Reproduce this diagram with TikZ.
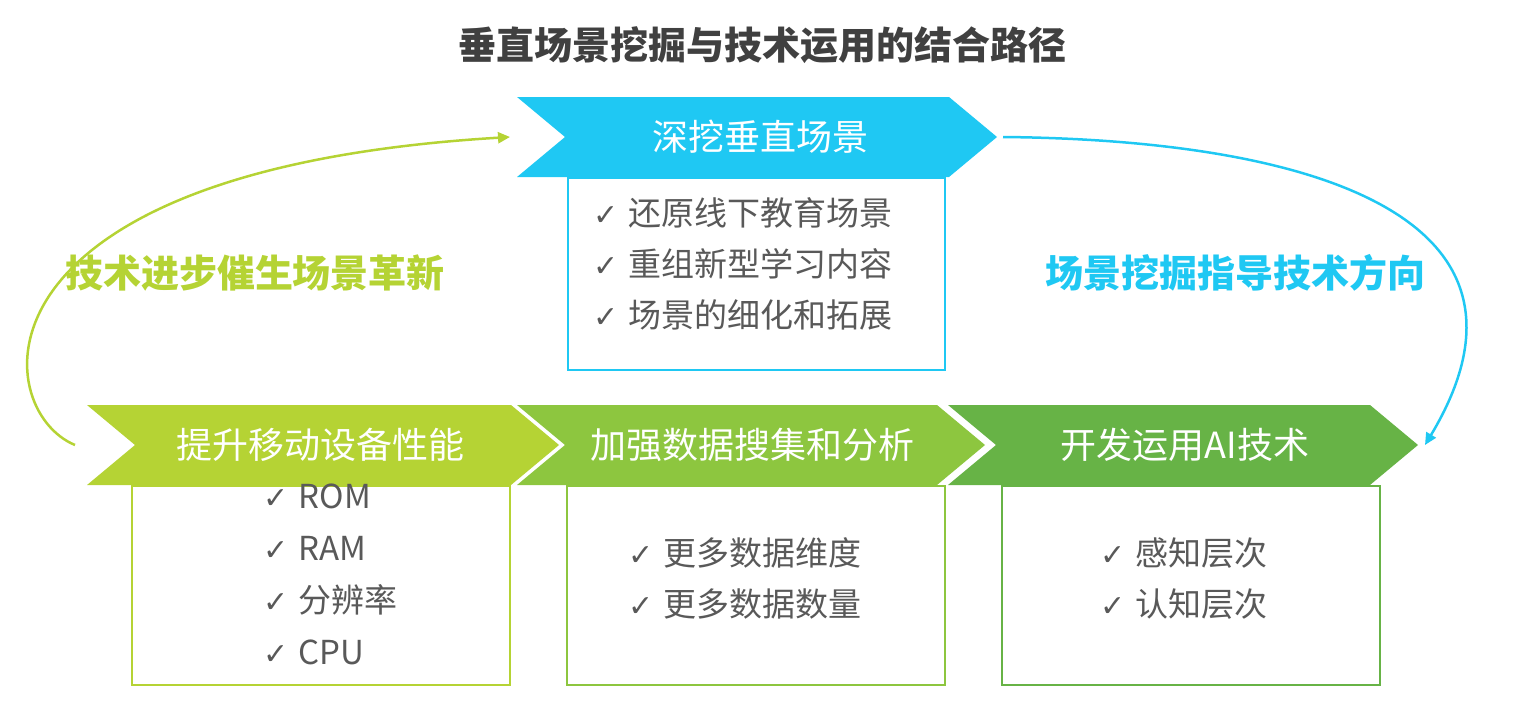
\documentclass[tikz,border=0pt]{standalone}
\usepackage{fontspec}
\setmainfont{Noto Sans CJK SC}
\newfontfamily\symfont{DejaVu Sans}
\usepackage{xcolor}
\usetikzlibrary{arrows.meta,positioning,calc}
\definecolor{skyblue}{HTML}{1FC8F3}
\definecolor{limegreen}{HTML}{B5D334}
\definecolor{midgreen}{HTML}{8DC63F}
\definecolor{darkgreen}{HTML}{67B346}
\definecolor{textgray}{HTML}{595959}
\newcommand{\chk}{{\symfont\fontsize{30}{30}\selectfont ✓}\hspace{10pt}}
\newcommand{\chevron}[4]{% x, y-mid, length, colour
  \fill[#4] (#1,#2-40) -- ++(#3,0) -- ++(48,40) -- ++(-48,40) -- ++(-#3,0) -- ++(48,-40) -- cycle;}

\begin{document}
\begin{tikzpicture}[x=1pt,y=-1pt,
            chevtext/.style={text=white, font=\fontsize{36}{36}\selectfont},
            listbox/.style={line width=2pt, fill=white},
            item/.style={text=textgray, font=\fontsize{33}{46}\selectfont, align=left},
            loop/.style={line width=2.5pt, -{Triangle[length=12pt,width=11pt]}}
        ]
            \useasboundingbox (0,0) rectangle (1540,712);
            \node[font=\bfseries\fontsize{38}{38}\selectfont, text=black!75] (title) at (762,45) {垂直场景挖掘与技术运用的结合路径};

            % chevrons
            \chevron{517}{137}{432}{skyblue}
            \chevron{87}{445}{424}{limegreen}
            \chevron{517}{445}{420}{midgreen}
            \chevron{948}{445}{422}{darkgreen}
            \node[chevtext] (scene) at (760,137) {深挖垂直场景};
            \node[chevtext] (device) at (320,445) {提升移动设备性能};
            \node[chevtext] (data) at (752,445) {加强数据搜集和分析};
            \node[chevtext] (ai) at (1185,445) {开发运用AI技术};

            % boxes
            \draw[listbox, draw=skyblue] (568,178) rectangle (945,370);
            \draw[listbox, draw=limegreen] (132,486) rectangle (510,685);
            \draw[listbox, draw=midgreen] (567,486) rectangle (945,685);
            \draw[listbox, draw=darkgreen] (1002,486) rectangle (1380,685);
            \node[item, anchor=north west, font=\fontsize{33}{51}\selectfont] (sceneitems) at (590,194) {\chk 还原线下教育场景\\\chk 重组新型学习内容\\\chk 场景的细化和拓展};
            \node[item, anchor=north west, font=\fontsize{33}{52}\selectfont] (deviceitems) at (260,480) {\chk ROM\\\chk RAM\\\chk 分辨率\\\chk CPU};
            \node[item, anchor=north west, font=\fontsize{33}{51}\selectfont] (dataitems) at (625,534) {\chk 更多数据维度\\\chk 更多数据数量};
            \node[item, anchor=north west, font=\fontsize{33}{51}\selectfont] (aiitems) at (1097,534) {\chk 感知层次\\\chk 认知层次};

            % loop arrows
            \coordinate (lstart) at (75,445);
            \coordinate (lend) at (510,137);
            \coordinate (rstart) at (1003,137);
            \coordinate (rend) at (1425,445);
            \draw[loop, limegreen] (lstart) .. controls (-10,410) and (-40,170) .. (lend);
            \draw[loop, skyblue] (rstart) .. controls (1320,140) and (1560,220) .. (rend);
            \node[font=\bfseries\fontsize{38}{38}\selectfont, text=limegreen] (techlabel) at (255,273) {技术进步催生场景革新};
            \node[font=\bfseries\fontsize{38}{38}\selectfont, text=skyblue] (scenelabel) at (1235,273) {场景挖掘指导技术方向};
        \end{tikzpicture}
\end{document}
